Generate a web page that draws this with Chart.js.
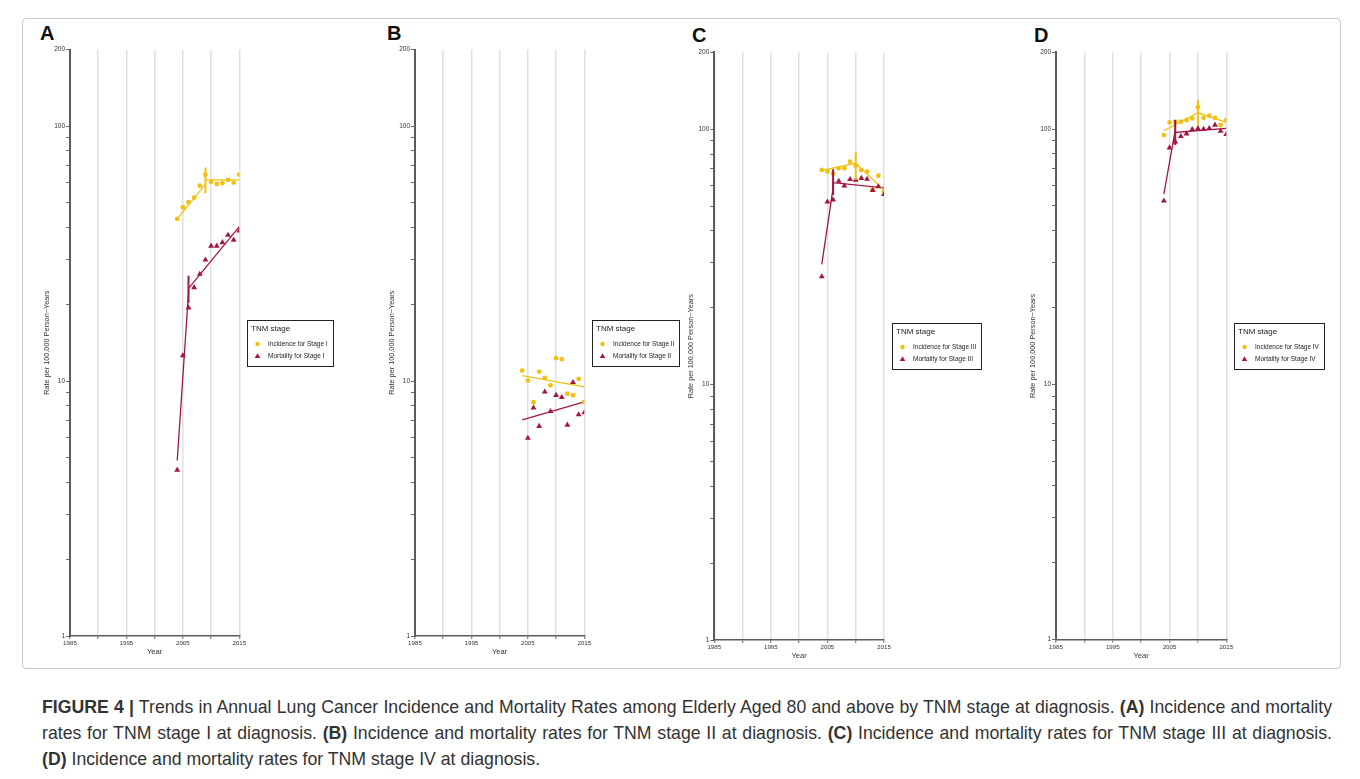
<!DOCTYPE html>
<html>
<head>
<meta charset="utf-8">
<script src="https://cdn.jsdelivr.net/npm/chart.js@4.4.1/dist/chart.umd.min.js"></script>
<style>
  body { margin: 0; width: 1360px; height: 779px; background: #fff; position: relative; overflow: hidden;
         font-family: "Liberation Sans", Arial, sans-serif; }
  .frame { position: absolute; left: 22px; top: 18px; width: 1317px; height: 649px;
           border: 1px solid #c9c9c9; border-radius: 4px; }
  canvas { position: absolute; }
  .tag { position: absolute; font-weight: bold; font-size: 20px; line-height: 20px; color: #111; }
  .cap { position: absolute; left: 42px; top: 694px; width: 1290px; font-size: 17.7px; line-height: 26px; color: #333; }
  .cap div { white-space: nowrap; }
  .cap .j { text-align: justify; text-align-last: justify; }
</style>
</head>
<body>
<div class="frame"></div>
<div class="tag" style="left:40px;top:23px">A</div>
<div class="tag" style="left:387px;top:23px">B</div>
<div class="tag" style="left:692px;top:25px">C</div>
<div class="tag" style="left:1034px;top:25px">D</div>
<canvas id="cA"></canvas>
<canvas id="cB"></canvas>
<canvas id="cC"></canvas>
<canvas id="cD"></canvas>
<div class="cap">
  <div class="j"><b>FIGURE 4 |</b> Trends in Annual Lung Cancer Incidence and Mortality Rates among Elderly Aged 80 and above by TNM stage at diagnosis. <b>(A)</b> Incidence and mortality</div>
  <div class="j">rates for TNM stage I at diagnosis. <b>(B)</b> Incidence and mortality rates for TNM stage II at diagnosis. <b>(C)</b> Incidence and mortality rates for TNM stage III at diagnosis.</div>
  <div><b>(D)</b> Incidence and mortality rates for TNM stage IV at diagnosis.</div>
</div>
<script>
var FONT = '"Liberation Sans", Arial, sans-serif';
var YELLOW = '#F2C012';
var RED = '#A3173F';

var years = [2004, 2005, 2006, 2007, 2008, 2009, 2010, 2011, 2012, 2013, 2014, 2015];
var stages = ['I', 'II', 'III', 'IV'];

// stage I
var incidenceI = [43.3, 48.1, 50.4, 52.5, 58.4, 64.5, 60.5, 59.4, 59.8, 61.6, 60.1, 64.6];
var mortalityI = [4.48, 12.6, 19.4, 23.3, 26.3, 29.9, 33.9, 33.9, 35.0, 37.4, 35.8, 38.9];
var incidenceTrendI = [[2004, 43.3], [2009, 59.3], [2009, 61.6], [2015, 61.6]];
var mortalityTrendI = [[2004, 4.88], [2006, 22.2], [2006, 23.1], [2015, 40.4]];
var incidenceJoinI = [2009, 54.6, 68.9];
var mortalityJoinI = [2006, 20.3, 25.9];

// stage II
var incidenceII = [11.0, 10.05, 8.26, 10.9, 10.3, 9.63, 12.3, 12.2, 8.93, 8.80, 10.2, 8.29];
var mortalityII = [null, 5.98, 7.85, 6.65, 9.07, 7.61, 8.80, 8.64, 6.73, 9.89, 7.39, 7.52];
var incidenceTrendII = [[2004, 10.5], [2015, 9.49]];
var mortalityTrendII = [[2004, 7.04], [2015, 8.29]];
var incidenceJoinII = null;
var mortalityJoinII = null;

// stage III
var incidenceIII = [69.3, 68.3, 67.0, 70.3, 70.3, 74.6, 72.0, 69.3, 68.3, 58.0, 65.8, 57.0];
var mortalityIII = [26.5, 52.0, 52.9, 62.7, 60.1, 63.7, 63.3, 64.3, 63.8, 57.7, 59.6, 55.6];
var incidenceTrendIII = [[2004, 69.0], [2010, 73.6], [2015, 57.8]];
var mortalityTrendIII = [[2004, 29.6], [2006, 58.8], [2006, 61.8], [2015, 59.0]];
var incidenceJoinIII = [2010, 63.3, 81.6];
var mortalityJoinIII = [2006, 55.3, 69.8];

// stage IV
var incidenceIV = [94.7, 106.2, 106.8, 106.8, 108.5, 110.1, 121.8, 110.7, 112.8, 110.7, 103.7, 108.5];
var mortalityIV = [52.3, 84.5, 89.2, 93.6, 95.9, 99.7, 100.5, 100.0, 100.6, 103.7, 98.2, 95.3];
var incidenceTrendIV = [[2004, 98.5], [2010, 115.8], [2015, 106.2]];
var mortalityTrendIV = [[2004, 55.6], [2006, 99.0], [2006, 97.0], [2015, 100.6]];
var incidenceJoinIV = [2010, 103.6, 130];
var mortalityJoinIV = [2006, 86.5, 108.4];

var xTicks = [1985, 1990, 1995, 2000, 2005, 2010, 2015];
var xLabels = [1985, 1995, 2005, 2015];
var yTicks = [1, 2, 3, 4, 5, 6, 7, 8, 9, 10, 20, 30, 40, 50, 60, 70, 80, 90, 100, 200];
var yLabels = [1, 10, 100, 200];

function pts(vals) {
    var out = [];
    for (var i = 0; i < years.length; i++) {
        if (vals[i] != null) out.push({x: years[i], y: vals[i]});
    }
    return out;
}
function pairs(list) {
    return list.map(function (p) { return {x: p[0], y: p[1]}; });
}
function bar(j) {
    return j ? [{x: j[0], y: j[1]}, {x: j[0], y: j[2]}] : [];
}
function triangle(ctx, x, y, r) {
    ctx.beginPath();
    for (var k = 0; k < 3; k++) {
        var a = k * 2 * Math.PI / 3;
        ctx.lineTo(x + Math.sin(a) * r, y - Math.cos(a) * r);
    }
    ctx.closePath();
    ctx.fill();
}

var legendBox = {
    id: 'legendBox',
    afterDraw: function (chart, args, opts) {
        var ctx = chart.ctx, a = chart.chartArea;
        var x = Math.round(a.right + 7.5), y = Math.round(a.top + 270.5);
        ctx.save();
        ctx.font = '6.5px ' + FONT;
        var tw = Math.max(ctx.measureText(opts.items[0]).width, ctx.measureText(opts.items[1]).width);
        var w = Math.round(21 + tw + 5);
        ctx.lineWidth = 1;
        ctx.strokeStyle = '#222';
        ctx.strokeRect(x + 0.5, y + 0.5, w, 46);
        ctx.fillStyle = '#222';
        ctx.textBaseline = 'middle';
        ctx.font = '8px ' + FONT;
        ctx.fillText(opts.title, x + 4, y + 9);
        ctx.font = '6.5px ' + FONT;
        ctx.fillText(opts.items[0], x + 21, y + 24);
        ctx.fillText(opts.items[1], x + 21, y + 36);
        ctx.fillStyle = YELLOW;
        ctx.beginPath();
        ctx.arc(x + 10.5, y + 24, 2.2, 0, Math.PI * 2);
        ctx.fill();
        ctx.fillStyle = RED;
        triangle(ctx, x + 10.5, y + 36.5, 3.2);
        ctx.restore();
    }
};

var panels = [
    {id: 'cA', plot: [70, 239.3, 49.5, 636], inc: incidenceI, mor: mortalityI,
     incTrend: incidenceTrendI, morTrend: mortalityTrendI, incJoin: incidenceJoinI, morJoin: mortalityJoinI},
    {id: 'cB', plot: [415, 584.3, 49.5, 636], inc: incidenceII, mor: mortalityII,
     incTrend: incidenceTrendII, morTrend: mortalityTrendII, incJoin: incidenceJoinII, morJoin: mortalityJoinII},
    {id: 'cC', plot: [714.3, 884, 52.4, 640], inc: incidenceIII, mor: mortalityIII,
     incTrend: incidenceTrendIII, morTrend: mortalityTrendIII, incJoin: incidenceJoinIII, morJoin: mortalityJoinIII},
    {id: 'cD', plot: [1056, 1226.3, 52.2, 639.6], inc: incidenceIV, mor: mortalityIV,
     incTrend: incidenceTrendIV, morTrend: mortalityTrendIV, incJoin: incidenceJoinIV, morJoin: mortalityJoinIV}
];

var YAXIS_W = 27.5, XAXIS_H = 29, CANVAS_W = 330;

panels.forEach(function (p, idx) {
    var stage = stages[idx];
    var left = p.plot[0], right = p.plot[1], top = p.plot[2], bottom = p.plot[3];
    var cx = Math.floor(left) - 48;
    var cy = Math.floor(top) - 10;
    var ch = Math.ceil(bottom) - cy + XAXIS_H;
    var canvas = document.getElementById(p.id);
    canvas.width = CANVAS_W;
    canvas.height = ch;
    canvas.style.left = cx + 'px';
    canvas.style.top = cy + 'px';
    var padLeft = (left - cx) - YAXIS_W;
    var padRight = CANVAS_W - (right - cx);
    var padTop = top - cy;
    var padBottom = ch - XAXIS_H - (bottom - cy);

    new Chart(canvas, {
        type: 'scatter',
        data: {
            datasets: [
                {data: bar(p.incJoin), showLine: true, borderColor: YELLOW, borderWidth: 2, pointRadius: 0},
                {data: bar(p.morJoin), showLine: true, borderColor: RED, borderWidth: 2, pointRadius: 0},
                {data: pts(p.mor), pointStyle: 'triangle', pointRadius: 3.4, pointBackgroundColor: RED,
                 pointBorderColor: RED, pointBorderWidth: 0},
                {data: pts(p.inc), pointStyle: 'circle', pointRadius: 2.4, pointBackgroundColor: YELLOW,
                 pointBorderColor: YELLOW, pointBorderWidth: 0},
                {data: pairs(p.incTrend), showLine: true, borderColor: YELLOW, borderWidth: 1.3, pointRadius: 0},
                {data: pairs(p.morTrend), showLine: true, borderColor: RED, borderWidth: 1.3, pointRadius: 0}
            ]
        },
        options: {
            responsive: false,
            animation: false,
            devicePixelRatio: 1,
            layout: {padding: {left: padLeft, right: padRight, top: padTop, bottom: padBottom}},
            plugins: {
                legend: {display: false},
                tooltip: {enabled: false},
                legendBox: {title: 'TNM stage', items: ['Incidence for Stage ' + stage, 'Mortality for Stage ' + stage]}
            },
            scales: {
                x: {
                    type: 'linear', min: 1985, max: 2015,
                    afterBuildTicks: function (s) { s.ticks = xTicks.map(function (v) { return {value: v}; }); },
                    afterFit: function (s) { s.height = XAXIS_H; },
                    ticks: {
                        autoSkip: false, maxRotation: 0, padding: 1, color: '#333',
                        font: {size: 6.2, family: FONT},
                        callback: function (v) { return xLabels.indexOf(v) >= 0 ? String(v) : ''; }
                    },
                    grid: {color: '#e0e0e0', lineWidth: 1.5, tickColor: '#666', tickLength: 3, tickWidth: 1},
                    border: {color: '#5c5c5c', width: 1.5},
                    title: {display: true, text: 'Year', color: '#333', font: {size: 7.6, family: FONT},
                            padding: {top: 0, bottom: 8.4}}
                },
                y: {
                    type: 'logarithmic', min: 1, max: 200,
                    afterBuildTicks: function (s) { s.ticks = yTicks.map(function (v) { return {value: v}; }); },
                    afterFit: function (s) { s.width = YAXIS_W; },
                    ticks: {
                        autoSkip: false, padding: 1, color: '#333',
                        font: {size: 6.5, family: FONT},
                        callback: function (v) { return yLabels.indexOf(v) >= 0 ? String(v) : ''; }
                    },
                    grid: {drawOnChartArea: false, tickColor: '#666', tickLength: 4, tickWidth: 1},
                    border: {color: '#5c5c5c', width: 2},
                    title: {display: true, text: 'Rate per 100,000 Person\u2212Years', color: '#333',
                            font: {size: 7.3, family: FONT}, padding: {top: 0, bottom: 0}}
                }
            }
        },
        plugins: [legendBox]
    });
});
</script>
</body>
</html>
